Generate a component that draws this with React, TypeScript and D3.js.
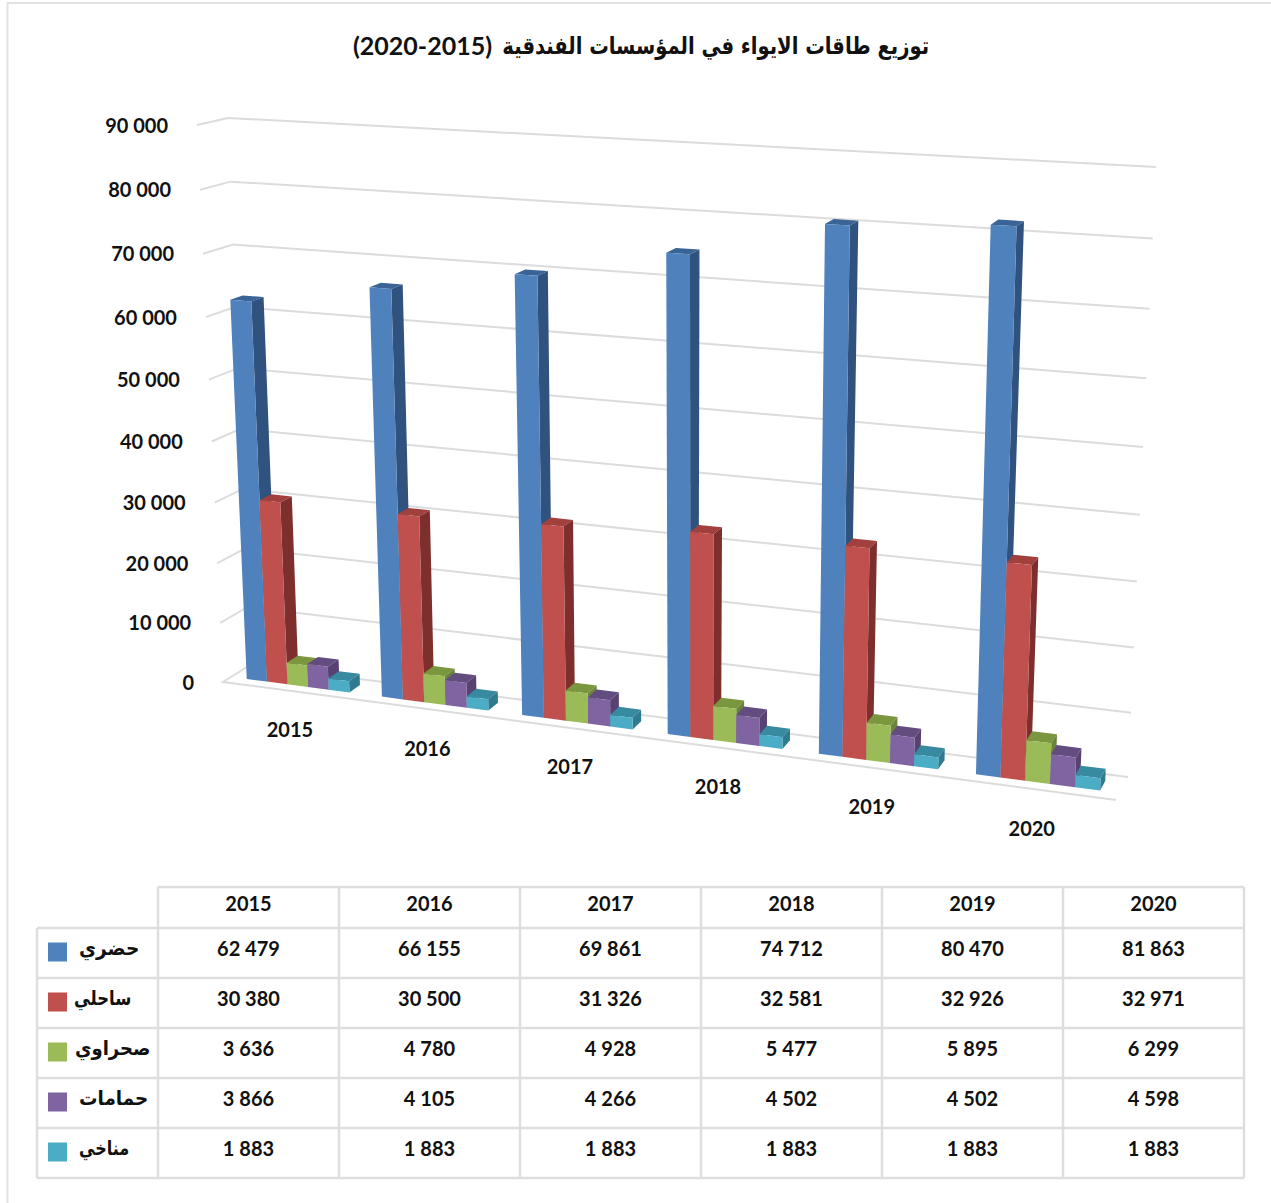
import React from 'react';
import * as d3 from 'd3';

const years = ['2015', '2016', '2017', '2018', '2019', '2020'];
const seriesNames = ['حضري', 'ساحلي', 'صحراوي', 'حمامات', 'مناخي'];
const hadari = [62479, 66155, 69861, 74712, 80470, 81863];
const sahili = [30380, 30500, 31326, 32581, 32926, 32971];
const sahrawi = [3636, 4780, 4928, 5477, 5895, 6299];
const hammamat = [3866, 4105, 4266, 4502, 4502, 4598];
const manakhi = [1883, 1883, 1883, 1883, 1883, 1883];
const seriesValues = [hadari, sahili, sahrawi, hammamat, manakhi];
const valueTicks = [0, 10000, 20000, 30000, 40000, 50000, 60000, 70000, 80000, 90000];
const titleArabic = 'توزيع طاقات الايواء في المؤسسات الفندقية';
const titleYears = '(2020-2015)';

// front / top / side shades per series
const frontColors = ['#4f81bd', '#c0504d', '#9bbb59', '#8064a2', '#4bacc6'];
const sideColors = ['#30527f', '#7d2f2d', '#6a8239', '#574271', '#2f7a8f'];
const topColors = ['#3a6496', '#a2403d', '#7a963f', '#634c80', '#388aa1'];

// legend labels start at slightly different places in the table
const legendX = [79, 74, 75, 79, 79];
const legendStretch = [0.93, 0.82, 0.9, 0.92, 0.8];

const FONT = 'Lato, sans-serif';
const ARABIC = '"DejaVu Sans", sans-serif';
const GRID = '#dcdcdc';

type Pt = [number, number];

// maps the unit square on a quad (perspective), returns f(u, v)
function quadMap(p00: Pt, p10: Pt, p11: Pt, p01: Pt) {
  const dx1 = p10[0] - p11[0], dx2 = p01[0] - p11[0], sx = p00[0] - p10[0] + p11[0] - p01[0];
  const dy1 = p10[1] - p11[1], dy2 = p01[1] - p11[1], sy = p00[1] - p10[1] + p11[1] - p01[1];
  const det = dx1 * dy2 - dx2 * dy1;
  const g = (sx * dy2 - dx2 * sy) / det;
  const h = (dx1 * sy - sx * dy1) / det;
  const a = p10[0] - p00[0] + g * p10[0], b = p01[0] - p00[0] + h * p01[0];
  const d = p10[1] - p00[1] + g * p10[1], e = p01[1] - p00[1] + h * p01[1];
  return (u: number, v: number): Pt => {
    const w = g * u + h * v + 1;
    return [(a * u + b * v + p00[0]) / w, (d * u + e * v + p00[1]) / w];
  };
}

// front plane and back wall of the 3D box
const frontPlane = quadMap([223, 682], [1116, 800], [1140, 179], [197, 125]);
const backPlane = quadMap([250, 665], [1128, 777], [1156, 167], [228, 118]);
const project = (u: number, v: number, depth: number): Pt => {
  const f = frontPlane(u, v);
  const b = backPlane(u, v);
  return [f[0] + (b[0] - f[0]) * depth, f[1] + (b[1] - f[1]) * depth];
};

const vScale = d3.scaleLinear().domain([0, 90000]).range([0, 1]);
const uScale = d3.scaleBand<string>().domain(years).range([0, 1]).paddingInner(0.237).paddingOuter(0.118);
const barScale = d3.scaleBand<string>().domain(seriesNames).range([0, uScale.bandwidth()]);
const DEPTH_FRONT = 0.3;
const DEPTH_BACK = 0.72;

const fmt = (n: number) => d3.format(',')(n).replace(/,/g, ' ');
const poly = (pts: Pt[]) => d3.line()(pts) + 'Z';

// table layout
const colX = d3.range(7).map(i => 158 + i * 181);
const rowY = [887, 928, 978, 1028, 1078, 1128, 1178];

export default function App() {
  return (
    <svg width={1271} height={1203} style={{ position: 'absolute', left: 0, top: 0, background: '#fff' }}>
      {/* outer frame */}
      <path d="M7.5,1203V3H1271" fill="none" stroke="#e2e2e2" strokeWidth={2} />

      <text transform="translate(929,46) scale(0.815,1)" direction="rtl" dominantBaseline="central" fontFamily={ARABIC} fontWeight={700} fontSize={24} fill="#111">
        {titleArabic}
      </text>
      <text x={353} y={45} dominantBaseline="central" direction="ltr" fontFamily={FONT} fontWeight={700} fontSize={25} fill="#111">
        {titleYears}
      </text>

      {/* wall grid */}
      {valueTicks.map(t => {
        const v = vScale(t);
        return (
          <g key={t}>
            <path d={d3.line()([frontPlane(0, v), backPlane(0, v), backPlane(1, v)])!} fill="none" stroke={GRID} strokeWidth={t === 0 ? 0 : 2} />
            <text x={frontPlane(0, v)[0] - 29} y={frontPlane(0, v)[1] - 0.5} textAnchor="end" dominantBaseline="central" fontFamily={FONT} fontWeight={700} fontSize={20} fill="#111">
              {fmt(t)}
            </text>
          </g>
        );
      })}
      {/* floor */}
      <path d={d3.line()([backPlane(1, 0), backPlane(0, 0), frontPlane(0, 0), frontPlane(1, 0)])!} fill="none" stroke={GRID} strokeWidth={2} />

      {/* bars */}
      {years.map((y, c) => (
        <g key={y}>
          {seriesNames.map((s, i) => {
            const u0 = uScale(y)! + barScale(s)!;
            const u1 = u0 + barScale.bandwidth();
            const v = vScale(seriesValues[i][c]);
            const fb = project(u0, 0, DEPTH_FRONT), fbr = project(u1, 0, DEPTH_FRONT);
            const ft = project(u0, v, DEPTH_FRONT), ftr = project(u1, v, DEPTH_FRONT);
            const bbr = project(u1, 0, DEPTH_BACK), btr = project(u1, v, DEPTH_BACK), btl = project(u0, v, DEPTH_BACK);
            return (
              <g key={s}>
                <path d={poly([ft, ftr, btr, btl])} fill={topColors[i]} />
                <path d={poly([fbr, ftr, btr, bbr])} fill={sideColors[i]} />
                <path d={poly([fb, fbr, ftr, ft])} fill={frontColors[i]} />
              </g>
            );
          })}
          {(() => {
            const p = frontPlane(uScale(y)! + uScale.bandwidth() / 2, 0);
            return (
              <text x={p[0] - c * 0.35} y={p[1] + 38.5} textAnchor="middle" dominantBaseline="central" fontFamily={FONT} fontWeight={700} fontSize={20} fill="#111">
                {y}
              </text>
            );
          })()}
        </g>
      ))}

      {/* data table */}
      <g stroke="#dedede" strokeWidth={2.5} fill="none">
        <path d={`M${colX[0]},${rowY[0]}H${colX[6]}`} />
        {rowY.slice(1).map(y => <path key={y} d={`M37,${y}H${colX[6]}`} />)}
        <path d={`M37,${rowY[1]}V${rowY[6]}`} />
        {colX.map(x => <path key={x} d={`M${x},${rowY[0]}V${rowY[6]}`} />)}
      </g>
      {years.map((y, c) => (
        <text key={y} x={(colX[c] + colX[c + 1]) / 2} y={902.5} textAnchor="middle" dominantBaseline="central" fontFamily={FONT} fontWeight={700} fontSize={20} fill="#111">
          {y}
        </text>
      ))}
      {seriesNames.map((s, i) => {
        const cy = (rowY[i + 1] + rowY[i + 2]) / 2;
        return (
          <g key={s}>
            <rect x={48} y={cy - 10.5} width={19} height={19} fill={frontColors[i]} />
            <text transform={`translate(${legendX[i]},${cy - 5}) scale(${legendStretch[i]},1)`} textAnchor="start" direction="ltr" dominantBaseline="central" fontFamily={ARABIC} fontWeight={700} fontSize={20} fill="#111">
              {s}
            </text>
            {years.map((y, c) => (
              <text key={y} x={(colX[c] + colX[c + 1]) / 2} y={cy - 5} textAnchor="middle" dominantBaseline="central" fontFamily={FONT} fontWeight={700} fontSize={20} fill="#111">
                {fmt(seriesValues[i][c])}
              </text>
            ))}
          </g>
        );
      })}
    </svg>
  );
}
